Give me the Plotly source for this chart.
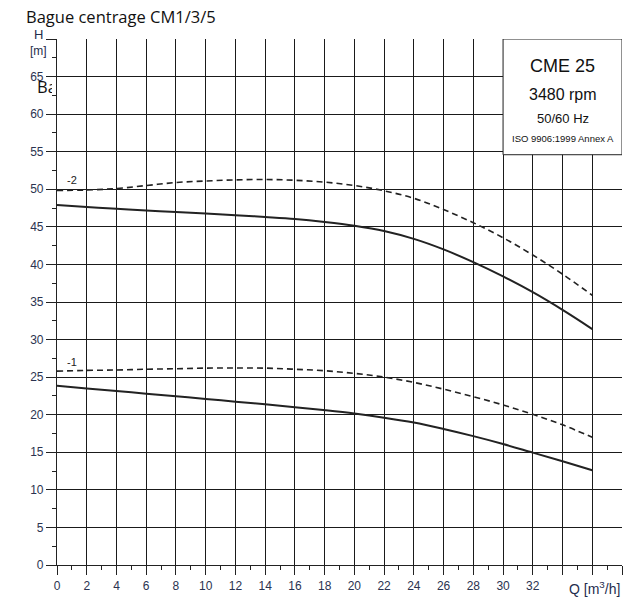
import plotly.graph_objects as go

# Data
q = [0, 2, 4, 6, 8, 10, 12, 14, 16, 18, 20, 22, 24, 26, 28, 30, 32, 34, 36]
h2_solid = [47.9, 47.65, 47.4, 47.18, 46.98, 46.78, 46.56, 46.32, 46.05, 45.65, 45.15, 44.45, 43.4, 42.0, 40.3, 38.4, 36.3, 33.95, 31.4]
h2_dash = [49.85, 49.9, 50.1, 50.5, 50.9, 51.1, 51.25, 51.3, 51.2, 50.95, 50.5, 49.8, 48.8, 47.3, 45.55, 43.55, 41.25, 38.7, 35.9]
h1_solid = [23.85, 23.5, 23.15, 22.8, 22.45, 22.1, 21.74, 21.38, 21.0, 20.6, 20.15, 19.6, 18.95, 18.1, 17.15, 16.1, 14.95, 13.8, 12.6]
h1_dash = [25.8, 25.9, 25.95, 26.05, 26.12, 26.2, 26.22, 26.2, 26.05, 25.85, 25.5, 25.0, 24.3, 23.4, 22.4, 21.3, 20.05, 18.65, 17.0]

x_ticks = list(range(0, 39, 2))
x_ticklabels = [str(v) if v <= 32 else "" for v in x_ticks]
y_ticks = list(range(0, 71, 5))
y_ticklabels = [str(v) if v <= 65 else "" for v in y_ticks]

curve_labels = ["-2", "-1"]

title_text = "Bague centrage CM1/3/5"
box_lines = ["CME 25", "3480 rpm", "50/60 Hz", "ISO 9906:1999 Annex A"]

label_font = "Liberation Sans Narrow, Arial Narrow, Liberation Sans, sans-serif"
text_font = "Open Sans, Liberation Sans, sans-serif"

W, H = 628, 599
ML, MR, MT, MB = 57, 6, 39, 32
PW, PH = W - ML - MR, H - MT - MB


def px(xpix):
    return (xpix - ML) / PW


def py(ypix):
    return (H - MB - ypix) / PH


fig = go.Figure()
fig.add_trace(go.Scatter(x=q, y=h2_dash, mode="lines", line=dict(color="#222", width=1.6, dash="6px,4px", shape="spline"), hoverinfo="skip"))
fig.add_trace(go.Scatter(x=q, y=h2_solid, mode="lines", line=dict(color="#222", width=2, shape="spline"), hoverinfo="skip"))
fig.add_trace(go.Scatter(x=q, y=h1_dash, mode="lines", line=dict(color="#222", width=1.6, dash="6px,4px", shape="spline"), hoverinfo="skip"))
fig.add_trace(go.Scatter(x=q, y=h1_solid, mode="lines", line=dict(color="#222", width=2, shape="spline"), hoverinfo="skip"))

# White box in top-right corner
fig.add_shape(type="rect", x0=30, x1=38, y0=54.6, y1=70, xref="x", yref="y",
              fillcolor="white", line=dict(color="#222", width=1), layer="above")

annotations = [
    dict(x=1, y=51.2, xref="x", yref="y", text=curve_labels[0], showarrow=False,
         font=dict(family=label_font, size=11, color="#222"), xanchor="center", yanchor="middle"),
    dict(x=1, y=27.0, xref="x", yref="y", text=curve_labels[1], showarrow=False,
         font=dict(family=label_font, size=11, color="#222"), xanchor="center", yanchor="middle"),
    dict(x=34, y=66.4, xref="x", yref="y", text=box_lines[0], showarrow=False,
         font=dict(family=label_font, size=18, color="#111"), xanchor="center", yanchor="middle"),
    dict(x=34, y=62.6, xref="x", yref="y", text=box_lines[1], showarrow=False,
         font=dict(family=label_font, size=16, color="#111"), xanchor="center", yanchor="middle"),
    dict(x=34, y=59.4, xref="x", yref="y", text=box_lines[2], showarrow=False,
         font=dict(family=label_font, size=13, color="#111"), xanchor="center", yanchor="middle"),
    dict(x=34, y=56.7, xref="x", yref="y", text=box_lines[3], showarrow=False,
         font=dict(family=label_font, size=9.5, color="#111"), xanchor="center", yanchor="middle"),
    dict(x=px(24), y=py(16), xref="paper", yref="paper", text=title_text, showarrow=False,
         font=dict(family=text_font, size=16.5, color="#111"), xanchor="left", yanchor="middle"),
    dict(x=px(35), y=py(87), xref="paper", yref="paper", text=title_text, showarrow=False,
         width=15, align="left",
         font=dict(family=text_font, size=16.5, color="#111"), xanchor="left", yanchor="middle"),
    dict(x=px(38), y=py(34), xref="paper", yref="paper", text="H", showarrow=False,
         font=dict(family=label_font, size=13, color="#1f2d4d"), xanchor="center", yanchor="middle"),
    dict(x=px(38), y=py(51), xref="paper", yref="paper", text="[m]", showarrow=False,
         font=dict(family=label_font, size=12, color="#1f2d4d"), xanchor="center", yanchor="middle"),
    dict(x=px(622), y=py(590), xref="paper", yref="paper", text="Q [m<sup>3</sup>/h]", showarrow=False,
         font=dict(family=label_font, size=14, color="#1f2d4d"), xanchor="right", yanchor="middle"),
]

fig.update_layout(
    width=W, height=H,
    margin=dict(l=ML, r=MR, t=MT, b=MB),
    paper_bgcolor="white", plot_bgcolor="white",
    showlegend=False,
    annotations=annotations,
    xaxis=dict(range=[0, 38], tickvals=x_ticks, ticktext=x_ticklabels,
               showgrid=True, gridcolor="#1a1a1a", gridwidth=1.2,
               ticks="outside", ticklen=9, tickcolor="#222", tickwidth=1.2,
               showline=True, linecolor="#222", linewidth=1.2, zeroline=False,
               tickfont=dict(family=label_font, size=12, color="#2b3350"),
               minor=dict(dtick=1, tick0=0, ticks="outside", ticklen=4, tickcolor="#222", showgrid=False),
               fixedrange=True),
    yaxis=dict(range=[0, 70], tickvals=y_ticks, ticktext=y_ticklabels,
               showgrid=True, gridcolor="#1a1a1a", gridwidth=1.2,
               ticks="outside", ticklen=10, tickcolor="#222", tickwidth=1.2,
               showline=True, linecolor="#222", linewidth=1.2, zeroline=False,
               tickfont=dict(family=label_font, size=12, color="#2b3350"),
               minor=dict(dtick=2.5, tick0=0, ticks="outside", ticklen=4, tickcolor="#222", showgrid=False),
               fixedrange=True),
)

fig.write_html("out.html", config={"displayModeBar": False},
               post_script="document.body.style.margin='0';document.body.style.overflow='hidden';")
